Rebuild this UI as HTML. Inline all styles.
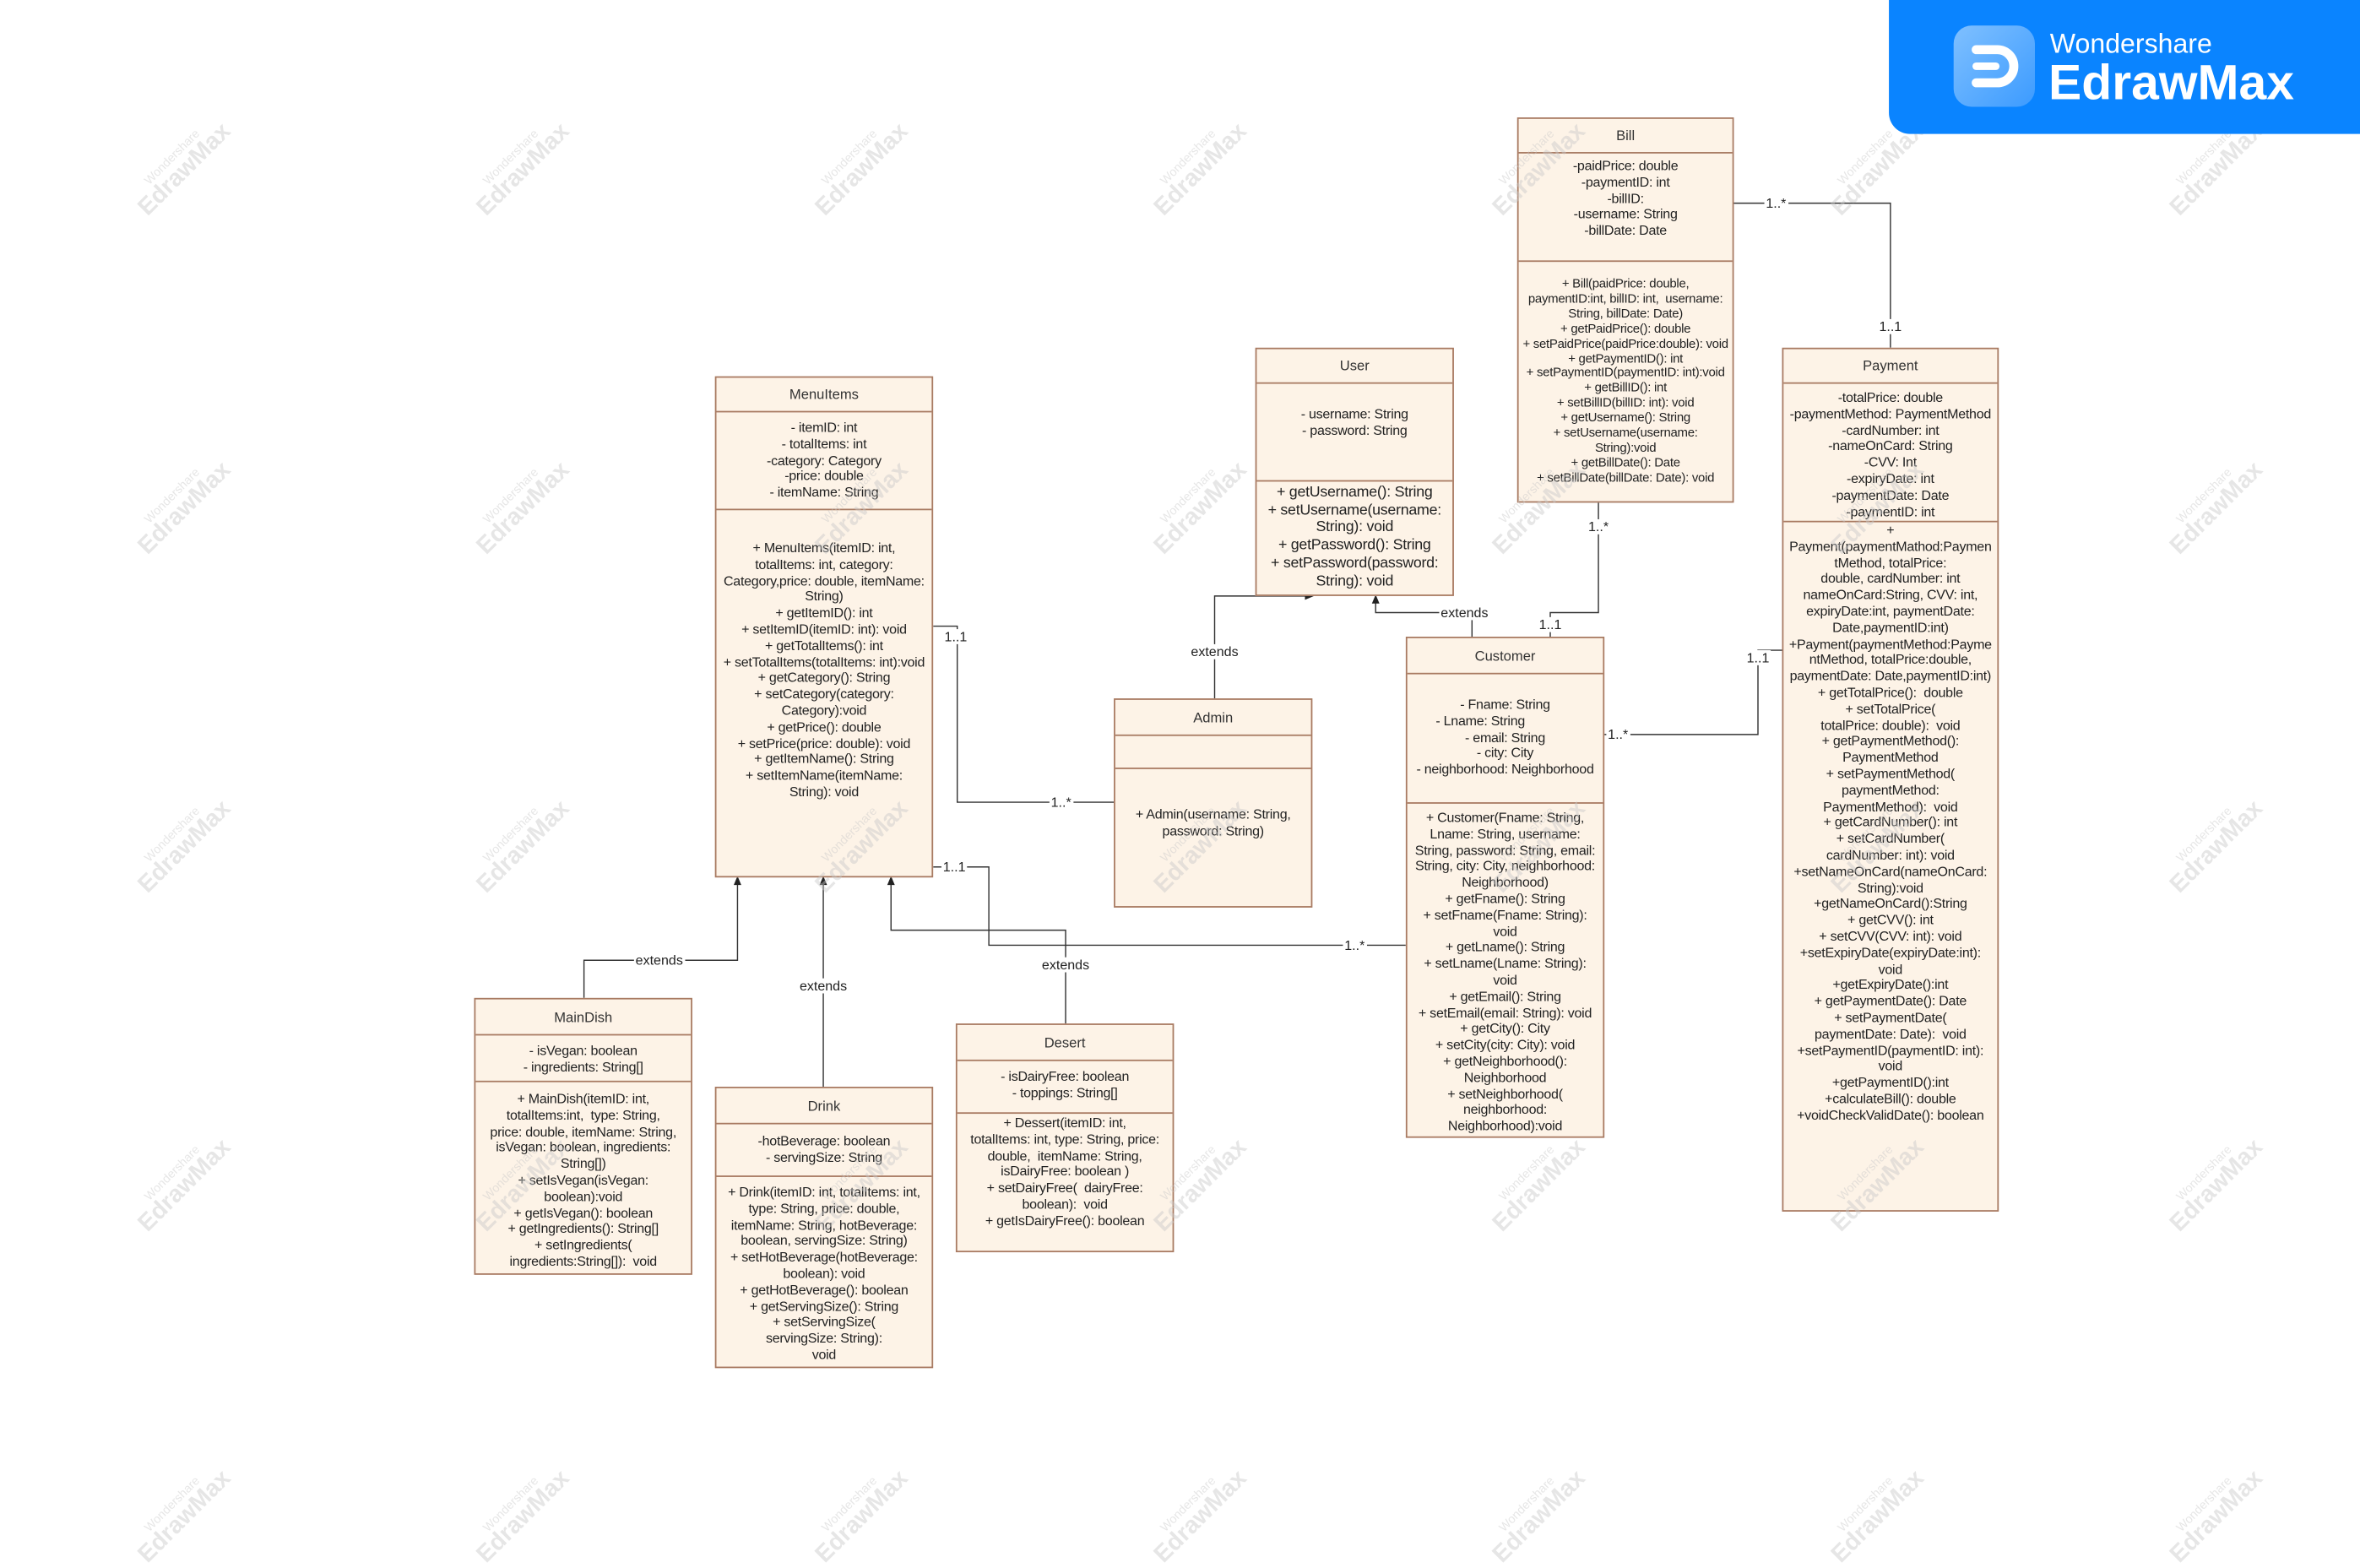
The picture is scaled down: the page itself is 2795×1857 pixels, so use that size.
<!DOCTYPE html>
<html><head><meta charset="utf-8"><style>
html,body{margin:0;padding:0;background:#fff;}
body{width:2795px;height:1811px;overflow:hidden;position:relative;font-family:"Liberation Sans",Arial,sans-serif;}
#c{position:absolute;left:0;top:0;width:1568px;height:1016px;transform:scale(1.78253);transform-origin:0 0;}
.b{position:absolute;background:#fdf3e7;border:1.3px solid #a87a62;box-sizing:border-box;}
.h,.s{position:absolute;left:0;right:0;box-sizing:border-box;}
.s{border-top:1.3px solid #a87a62;}
.h{display:flex;align-items:center;justify-content:center;font-size:9.3px;color:#333;}
.t{display:flex;flex-direction:column;align-items:center;font-size:9px;line-height:10.8px;color:#222;letter-spacing:-0.15px;}
.t div{white-space:nowrap;}
.l{position:absolute;font-size:9px;color:#222;background:#fff;line-height:10px;transform:translate(-50%,-50%);white-space:nowrap;padding:0 1px;}
.w{position:absolute;transform:translate(-50%,-50%) rotate(-45deg);color:rgba(200,200,200,0.45);white-space:nowrap;text-align:center;pointer-events:none;}
.w .a{font-size:8px;line-height:9px;}
.w .z{font-size:16px;line-height:16px;font-weight:bold;}
.w .o{position:absolute;left:-30px;top:14px;width:18px;height:18px;border:1.5px solid rgba(200,200,200,0.45);border-radius:5px;transform:rotate(45deg);}
</style></head><body><div id="c">

<svg width="1568" height="1016" style="position:absolute;left:0;top:0" fill="none" stroke="#333" stroke-width="0.8">
<path d="M620,416 H636 V533 H740"/>
<path d="M620,576 H657 V628 H934"/>
<path d="M708,680 V618 H592 V586"/>
<path d="M388,663 V638 H490 V586"/>
<path d="M547,722 V586"/>
<path d="M807,464 V396 H869"/>
<path d="M978,423 V407 H914 V399"/>
<path d="M1062,334 V407 H1030 V423"/>
<path d="M1152,135 H1256 V231"/>
<path d="M1065,488 H1168 V432 H1184"/>
<g fill="#222" stroke="none">
<path d="M592,582 L589.5,588 L594.5,588Z"/>
<path d="M490,582 L487.5,588 L492.5,588Z"/>
<path d="M547,582 L544.5,588 L549.5,588Z"/>
<path d="M873,396 L867,393.5 L867,398.5Z"/>
<path d="M914,395 L911.5,401 L916.5,401Z"/>
</g>
</svg>

<div class="l" style="left:635px;top:423px">1..1</div>
<div class="l" style="left:705px;top:533px">1..*</div>
<div class="l" style="left:634px;top:576px">1..1</div>
<div class="l" style="left:900px;top:628px">1..*</div>
<div class="l" style="left:438px;top:638px">extends</div>
<div class="l" style="left:547px;top:655px">extends</div>
<div class="l" style="left:708px;top:641px">extends</div>
<div class="l" style="left:807px;top:433px">extends</div>
<div class="l" style="left:973px;top:407px">extends</div>
<div class="l" style="left:1062px;top:350px">1..*</div>
<div class="l" style="left:1030px;top:415px">1..1</div>
<div class="l" style="left:1180px;top:135px">1..*</div>
<div class="l" style="left:1256px;top:217px">1..1</div>
<div class="l" style="left:1075px;top:488px">1..*</div>
<div class="l" style="left:1168px;top:437px">1..1</div>

<!-- MenuItems -->
<div class="b" style="left:475px;top:250px;width:145px;height:333px">
<div class="h" style="top:0;height:22px">MenuItems</div>
<div class="s t" style="top:22px;height:65px;padding-top:5px">
<div>- itemID: int</div><div>- totalItems: int</div><div>-category: Category</div><div>-price: double</div><div>- itemName: String</div></div>
<div class="s t" style="top:87px;bottom:0;padding-top:20px">
<div>+ MenuItems(itemID: int,</div><div>totalItems: int, category:</div><div>Category,price: double, itemName:</div><div>String)</div><div>+ getItemID(): int</div><div>+ setItemID(itemID: int): void</div><div>+ getTotalItems(): int</div><div>+ setTotalItems(totalItems: int):void</div><div>+ getCategory(): String</div><div>+ setCategory(category:</div><div>Category):void</div><div>+ getPrice(): double</div><div>+ setPrice(price: double): void</div><div>+ getItemName(): String</div><div>+ setItemName(itemName:</div><div>String): void</div></div>
</div>

<!-- User -->
<div class="b" style="left:834px;top:231px;width:132px;height:165px">
<div class="h" style="top:0;height:22px">User</div>
<div class="s t" style="top:22px;height:65px;padding-top:15px">
<div>- username: String</div><div>- password: String</div></div>
<div class="s t" style="top:87px;bottom:0;padding-top:2px;font-size:10px;line-height:11.7px">
<div>+ getUsername(): String</div><div>+ setUsername(username:</div><div>String): void</div><div>+ getPassword(): String</div><div>+ setPassword(password:</div><div>String): void</div></div>
</div>

<!-- Admin -->
<div class="b" style="left:740px;top:464px;width:132px;height:139px">
<div class="h" style="top:0;height:23px">Admin</div>
<div class="s" style="top:23px;height:22px"></div>
<div class="s t" style="top:45px;bottom:0;padding-top:25px">
<div>+ Admin(username: String,</div><div>password: String)</div></div>
</div>

<!-- Bill -->
<div class="b" style="left:1008px;top:78px;width:144px;height:256px">
<div class="h" style="top:0;height:22px">Bill</div>
<div class="s t" style="top:22px;height:72px;padding-top:3px">
<div>-paidPrice: double</div><div>-paymentID: int</div><div>-billID:</div><div>-username: String</div><div>-billDate: Date</div></div>
<div class="s t" style="top:94px;bottom:0;padding-top:10px;font-size:8.4px;line-height:9.9px">
<div>+ Bill(paidPrice: double,</div><div>paymentID:int, billID: int,&nbsp; username:</div><div>String, billDate: Date)</div><div>+ getPaidPrice(): double</div><div>+ setPaidPrice(paidPrice:double): void</div><div>+ getPaymentID(): int</div><div>+ setPaymentID(paymentID: int):void</div><div>+ getBillID(): int</div><div>+ setBillID(billID: int): void</div><div>+ getUsername(): String</div><div>+ setUsername(username:</div><div>String):void</div><div>+ getBillDate(): Date</div><div>+ setBillDate(billDate: Date): void</div></div>
</div>

<!-- Payment -->
<div class="b" style="left:1184px;top:231px;width:144px;height:574px">
<div class="h" style="top:0;height:22px">Payment</div>
<div class="s t" style="top:22px;height:95px;padding-top:4px">
<div>-totalPrice: double</div><div>-paymentMethod: PaymentMethod</div><div>-cardNumber: int</div><div>-nameOnCard: String</div><div>-CVV: Int</div><div>-expiryDate: int</div><div>-paymentDate: Date</div><div>-paymentID: int</div></div>
<div class="s t" style="top:117px;bottom:0;padding-top:0px;margin-top:-3px">
<div>+</div><div>Payment(paymentMathod:Paymen</div><div>tMethod, totalPrice:</div><div>double, cardNumber: int</div><div>nameOnCard:String, CVV: int,</div><div>expiryDate:int, paymentDate:</div><div>Date,paymentID:int)</div><div>+Payment(paymentMethod:Payme</div><div>ntMethod, totalPrice:double,</div><div>paymentDate: Date,paymentID:int)</div><div>+ getTotalPrice():&nbsp; double</div><div>+ setTotalPrice(</div><div>totalPrice: double):&nbsp; void</div><div>+ getPaymentMethod():</div><div>PaymentMethod</div><div>+ setPaymentMethod(</div><div>paymentMethod:</div><div>PaymentMethod):&nbsp; void</div><div>+ getCardNumber(): int</div><div>+ setCardNumber(</div><div>cardNumber: int): void</div><div>+setNameOnCard(nameOnCard:</div><div>String):void</div><div>+getNameOnCard():String</div><div>+ getCVV(): int</div><div>+ setCVV(CVV: int): void</div><div>+setExpiryDate(expiryDate:int):</div><div>void</div><div>+getExpiryDate():int</div><div>+ getPaymentDate(): Date</div><div>+ setPaymentDate(</div><div>paymentDate: Date):&nbsp; void</div><div>+setPaymentID(paymentID: int):</div><div>void</div><div>+getPaymentID():int</div><div>+calculateBill(): double</div><div>+voidCheckValidDate(): boolean</div></div>
</div>

<!-- Customer -->
<div class="b" style="left:934px;top:423px;width:132px;height:333px">
<div class="h" style="top:0;height:23px">Customer</div>
<div class="s t" style="top:23px;height:86px;padding-top:15px">
<div>- Fname: String</div><div>- Lname: String&nbsp;&nbsp;&nbsp;&nbsp;&nbsp;&nbsp;&nbsp;&nbsp;&nbsp;&nbsp;&nbsp;&nbsp;&nbsp;&nbsp;</div><div>- email: String</div><div>- city: City</div><div>- neighborhood: Neighborhood</div></div>
<div class="s t" style="top:109px;bottom:0;padding-top:4px">
<div>+ Customer(Fname: String,</div><div>Lname: String, username:</div><div>String, password: String, email:</div><div>String, city: City, neighborhood:</div><div>Neighborhood)</div><div>+ getFname(): String</div><div>+ setFname(Fname: String):</div><div>void</div><div>+ getLname(): String</div><div>+ setLname(Lname: String):</div><div>void</div><div>+ getEmail(): String</div><div>+ setEmail(email: String): void</div><div>+ getCity(): City</div><div>+ setCity(city: City): void</div><div>+ getNeighborhood():</div><div>Neighborhood</div><div>+ setNeighborhood(</div><div>neighborhood:</div><div>Neighborhood):void</div></div>
</div>

<!-- MainDish -->
<div class="b" style="left:315px;top:663px;width:145px;height:184px">
<div class="h" style="top:0;height:23px">MainDish</div>
<div class="s t" style="top:23px;height:31px;padding-top:5px">
<div>- isVegan: boolean</div><div>- ingredients: String[]</div></div>
<div class="s t" style="top:54px;bottom:0;padding-top:6px">
<div>+ MainDish(itemID: int,</div><div>totalItems:int,&nbsp; type: String,</div><div>price: double, itemName: String,</div><div>isVegan: boolean, ingredients:</div><div>String[])</div><div>+ setIsVegan(isVegan:</div><div>boolean):void</div><div>+ getIsVegan(): boolean</div><div>+ getIngredients(): String[]</div><div>+ setIngredients(</div><div>ingredients:String[]):&nbsp; void</div></div>
</div>

<!-- Drink -->
<div class="b" style="left:475px;top:722px;width:145px;height:187px">
<div class="h" style="top:0;height:23px">Drink</div>
<div class="s t" style="top:23px;height:35px;padding-top:6px">
<div>-hotBeverage: boolean</div><div>- servingSize: String</div></div>
<div class="s t" style="top:58px;bottom:0;padding-top:5px">
<div>+ Drink(itemID: int, totalItems: int,</div><div>type: String, price: double,</div><div>itemName: String, hotBeverage:</div><div>boolean, servingSize: String)</div><div>+ setHotBeverage(hotBeverage:</div><div>boolean): void</div><div>+ getHotBeverage(): boolean</div><div>+ getServingSize(): String</div><div>+ setServingSize(</div><div>servingSize: String):</div><div>void</div></div>
</div>

<!-- Desert -->
<div class="b" style="left:635px;top:680px;width:145px;height:152px">
<div class="h" style="top:0;height:23px">Desert</div>
<div class="s t" style="top:23px;height:35px;padding-top:5px">
<div>- isDairyFree: boolean</div><div>- toppings: String[]</div></div>
<div class="s t" style="top:58px;bottom:0;padding-top:1px">
<div>+ Dessert(itemID: int,</div><div>totalItems: int, type: String, price:</div><div>double,&nbsp; itemName: String,</div><div>isDairyFree: boolean )</div><div>+ setDairyFree(&nbsp; dairyFree:</div><div>boolean):&nbsp; void</div><div>+ getIsDairyFree(): boolean</div></div>
</div>

<!-- Watermarks -->
<div class="w" style="left:120px;top:110px"><div class="a">Wondershare</div><div class="z">EdrawMax</div></div>
<div class="w" style="left:345px;top:110px"><div class="a">Wondershare</div><div class="z">EdrawMax</div></div>
<div class="w" style="left:570px;top:110px"><div class="a">Wondershare</div><div class="z">EdrawMax</div></div>
<div class="w" style="left:795px;top:110px"><div class="a">Wondershare</div><div class="z">EdrawMax</div></div>
<div class="w" style="left:1020px;top:110px"><div class="a">Wondershare</div><div class="z">EdrawMax</div></div>
<div class="w" style="left:1245px;top:110px"><div class="a">Wondershare</div><div class="z">EdrawMax</div></div>
<div class="w" style="left:1470px;top:110px"><div class="a">Wondershare</div><div class="z">EdrawMax</div></div>
<div class="w" style="left:120px;top:335px"><div class="a">Wondershare</div><div class="z">EdrawMax</div></div>
<div class="w" style="left:345px;top:335px"><div class="a">Wondershare</div><div class="z">EdrawMax</div></div>
<div class="w" style="left:570px;top:335px"><div class="a">Wondershare</div><div class="z">EdrawMax</div></div>
<div class="w" style="left:795px;top:335px"><div class="a">Wondershare</div><div class="z">EdrawMax</div></div>
<div class="w" style="left:1020px;top:335px"><div class="a">Wondershare</div><div class="z">EdrawMax</div></div>
<div class="w" style="left:1245px;top:335px"><div class="a">Wondershare</div><div class="z">EdrawMax</div></div>
<div class="w" style="left:1470px;top:335px"><div class="a">Wondershare</div><div class="z">EdrawMax</div></div>
<div class="w" style="left:120px;top:560px"><div class="a">Wondershare</div><div class="z">EdrawMax</div></div>
<div class="w" style="left:345px;top:560px"><div class="a">Wondershare</div><div class="z">EdrawMax</div></div>
<div class="w" style="left:570px;top:560px"><div class="a">Wondershare</div><div class="z">EdrawMax</div></div>
<div class="w" style="left:795px;top:560px"><div class="a">Wondershare</div><div class="z">EdrawMax</div></div>
<div class="w" style="left:1020px;top:560px"><div class="a">Wondershare</div><div class="z">EdrawMax</div></div>
<div class="w" style="left:1245px;top:560px"><div class="a">Wondershare</div><div class="z">EdrawMax</div></div>
<div class="w" style="left:1470px;top:560px"><div class="a">Wondershare</div><div class="z">EdrawMax</div></div>
<div class="w" style="left:120px;top:785px"><div class="a">Wondershare</div><div class="z">EdrawMax</div></div>
<div class="w" style="left:345px;top:785px"><div class="a">Wondershare</div><div class="z">EdrawMax</div></div>
<div class="w" style="left:570px;top:785px"><div class="a">Wondershare</div><div class="z">EdrawMax</div></div>
<div class="w" style="left:795px;top:785px"><div class="a">Wondershare</div><div class="z">EdrawMax</div></div>
<div class="w" style="left:1020px;top:785px"><div class="a">Wondershare</div><div class="z">EdrawMax</div></div>
<div class="w" style="left:1245px;top:785px"><div class="a">Wondershare</div><div class="z">EdrawMax</div></div>
<div class="w" style="left:1470px;top:785px"><div class="a">Wondershare</div><div class="z">EdrawMax</div></div>
<div class="w" style="left:120px;top:1005px"><div class="a">Wondershare</div><div class="z">EdrawMax</div></div>
<div class="w" style="left:345px;top:1005px"><div class="a">Wondershare</div><div class="z">EdrawMax</div></div>
<div class="w" style="left:570px;top:1005px"><div class="a">Wondershare</div><div class="z">EdrawMax</div></div>
<div class="w" style="left:795px;top:1005px"><div class="a">Wondershare</div><div class="z">EdrawMax</div></div>
<div class="w" style="left:1020px;top:1005px"><div class="a">Wondershare</div><div class="z">EdrawMax</div></div>
<div class="w" style="left:1245px;top:1005px"><div class="a">Wondershare</div><div class="z">EdrawMax</div></div>
<div class="w" style="left:1470px;top:1005px"><div class="a">Wondershare</div><div class="z">EdrawMax</div></div>

<!-- Logo -->
<div style="position:absolute;left:1255px;top:0;width:313px;height:89px;background:#0a84ff;border-bottom-left-radius:14px;">
<div style="position:absolute;left:43px;top:17px;width:54px;height:54px;border-radius:12px;background:linear-gradient(135deg,#7fc0ff,#3c9bff);">
<svg width="54" height="54" style="position:absolute;left:0;top:0"><path d="M15,16 H29 A11,11 0 0 1 29,38 H15" fill="none" stroke="#fff" stroke-width="6" stroke-linecap="round"/><path d="M15,27 H28" stroke="#fff" stroke-width="5" stroke-linecap="round"/></svg>
</div>
<div style="position:absolute;left:107px;top:19px;color:#fff;font-size:18px;line-height:20px;">Wondershare</div>
<div style="position:absolute;left:106px;top:37px;color:#fff;font-size:33px;line-height:36px;font-weight:bold;">EdrawMax</div>
</div>

</div></body></html>
